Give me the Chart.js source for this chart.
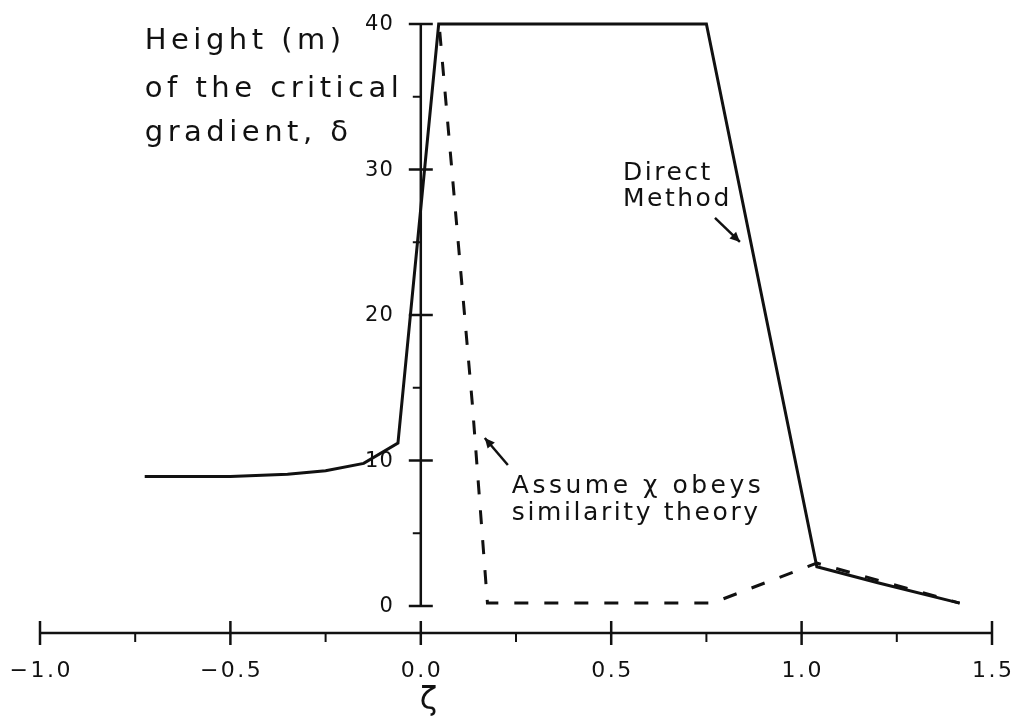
<!DOCTYPE html>
<html><head><meta charset="utf-8">
<script src="https://cdn.jsdelivr.net/npm/chart.js@4.4.1/dist/chart.umd.min.js"></script>
<style>html,body{margin:0;padding:0;background:#fff;}#wrap{width:1012px;height:724px;position:relative;}</style>
</head><body><div id="wrap"><canvas id="c" width="1012" height="724"></canvas></div>
<script>
// ---- data ----
const directX = [-0.725, -0.5, -0.35, -0.25, -0.15, -0.06, 0.047, 0.75, 1.04, 1.2, 1.415];
const directY = [8.9, 8.9, 9.05, 9.3, 9.8, 11.2, 40, 40, 2.7, 1.6, 0.2];
const simX = [0.048, 0.135, 0.175, 0.765, 1.04, 1.415];
const simY = [40, 14, 0.2, 0.2, 2.95, 0.2];
const xMajorTicks = [-1.0, -0.5, 0.0, 0.5, 1.0, 1.5];
const xTickLabels = ['\u22121.0', '\u22120.5', '0.0', '0.5', '1.0', '1.5'];
const xMinorTicks = [-0.75, -0.25, 0.25, 0.75, 1.25];
const yMajorTicks = [0, 10, 20, 30, 40];
const yTickLabels = ['0', '10', '20', '30', '40'];
const yMinorTicks = [5, 15, 25, 35];
const yTitleLines = ['Height (m)', 'of the critical', 'gradient, \u03b4'];
const xTitle = '\u03b6';
const directLabel = ['Direct', 'Method'];
const simLabel = ['Assume \u03c7 obeys', 'similarity theory'];

const INK = '#111';
const FONT = '"DejaVu Sans", sans-serif';

function spacedWidth(ctx, txt, ls) {
  ctx.letterSpacing = '0px';
  return ctx.measureText(txt).width + ls * (txt.length - 1);
}
function drawSpaced(ctx, txt, x, y, ls, align) {
  const w = spacedWidth(ctx, txt, ls);
  let x0 = x;
  if (align === 'center') x0 = x - w / 2;
  else if (align === 'right') x0 = x - w;
  ctx.letterSpacing = ls + 'px';
  ctx.textAlign = 'left';
  ctx.fillText(txt, x0, y);
  ctx.letterSpacing = '0px';
}
function arrow(ctx, x1, y1, x2, y2) {
  ctx.beginPath();
  ctx.moveTo(x1, y1);
  ctx.lineTo(x2, y2);
  ctx.stroke();
  const a = Math.atan2(y2 - y1, x2 - x1);
  const L = 11, W = 0.45;
  ctx.beginPath();
  ctx.moveTo(x2, y2);
  ctx.lineTo(x2 - L * Math.cos(a - W), y2 - L * Math.sin(a - W));
  ctx.lineTo(x2 - L * Math.cos(a + W), y2 - L * Math.sin(a + W));
  ctx.closePath();
  ctx.fill();
}

const axesPlugin = {
  id: 'axesPlugin',
  afterDraw(chart) {
    const ctx = chart.ctx;
    const xs = chart.scales.x, ys = chart.scales.y;
    const X = v => xs.getPixelForValue(v);
    const Y = v => ys.getPixelForValue(v);
    ctx.save();
    ctx.strokeStyle = INK; ctx.fillStyle = INK;
    ctx.lineCap = 'butt';
    // y axis
    const x0 = X(0);
    ctx.lineWidth = 2.5;
    ctx.beginPath(); ctx.moveTo(x0, Y(0)); ctx.lineTo(x0, Y(40)); ctx.stroke();
    yMajorTicks.forEach(v => { ctx.beginPath(); ctx.moveTo(x0 - 12, Y(v)); ctx.lineTo(x0 + 12, Y(v)); ctx.stroke(); });
    ctx.lineWidth = 2;
    yMinorTicks.forEach(v => { ctx.beginPath(); ctx.moveTo(x0 - 8, Y(v)); ctx.lineTo(x0, Y(v)); ctx.stroke(); });
    // x axis (detached, at bottom of chart area)
    const yb = chart.chartArea.bottom;
    ctx.lineWidth = 2.5;
    ctx.beginPath(); ctx.moveTo(X(-1), yb); ctx.lineTo(X(1.5), yb); ctx.stroke();
    xMajorTicks.forEach(v => { ctx.beginPath(); ctx.moveTo(X(v), yb - 12); ctx.lineTo(X(v), yb + 12); ctx.stroke(); });
    ctx.lineWidth = 2;
    xMinorTicks.forEach(v => { ctx.beginPath(); ctx.moveTo(X(v), yb); ctx.lineTo(X(v), yb + 9); ctx.stroke(); });
    // tick labels
    ctx.font = '21px ' + FONT;
    ctx.textBaseline = 'middle';
    yMajorTicks.forEach((v, i) => drawSpaced(ctx, yTickLabels[i], x0 - 28, Y(v) + 1, 1, 'right'));
    ctx.font = '22px ' + FONT;
    ctx.textBaseline = 'alphabetic';
    xMajorTicks.forEach((v, i) => drawSpaced(ctx, xTickLabels[i], X(v), yb + 44, 2.5, 'center'));
    // axis titles
    ctx.font = '32px ' + FONT;
    drawSpaced(ctx, xTitle, X(0.02), yb + 76, 0, 'center');
    ctx.font = '29px ' + FONT;
    const tY = [38.3, 35.0, 31.96];
    yTitleLines.forEach((t, i) => drawSpaced(ctx, t, X(-0.725), Y(tY[i]), 4.5, 'left'));
    // annotations
    ctx.font = '25px ' + FONT;
    drawSpaced(ctx, directLabel[0], X(0.531), Y(29.28), 2.5, 'left');
    drawSpaced(ctx, directLabel[1], X(0.531), Y(27.5), 2.5, 'left');
    drawSpaced(ctx, simLabel[0], X(0.239), Y(7.77), 3.5, 'left');
    drawSpaced(ctx, simLabel[1], X(0.239), Y(5.9), 2.6, 'left');
    ctx.lineWidth = 2.5;
    arrow(ctx, X(0.7725), Y(26.67), X(0.838), Y(25.02));
    arrow(ctx, X(0.2286), Y(9.69), X(0.168), Y(11.55));
    ctx.restore();
  }
};

const toPts = (xa, ya) => xa.map((x, i) => ({ x: x, y: ya[i] }));

new Chart(document.getElementById('c'), {
  type: 'scatter',
  data: {
    datasets: [
      { label: 'Direct Method', data: toPts(directX, directY), showLine: true,
        borderColor: INK, borderWidth: 3, pointRadius: 0, tension: 0, clip: false,
        borderJoinStyle: 'miter' },
      { label: 'Assume chi obeys similarity theory', data: toPts(simX, simY), showLine: true,
        borderColor: INK, borderWidth: 3, pointRadius: 0, tension: 0, clip: false,
        borderDash: [14, 16], borderDashOffset: -8 }
    ]
  },
  options: {
    responsive: false,
    animation: false,
    layout: { padding: { left: 40, right: 20, top: 24, bottom: 91 } },
    plugins: { legend: { display: false }, tooltip: { enabled: false } },
    scales: {
      x: { type: 'linear', min: -1, max: 1.5, display: false },
      y: { type: 'linear', min: -1.856, max: 40, display: false }
    }
  },
  plugins: [axesPlugin]
});
</script>
</body></html>
